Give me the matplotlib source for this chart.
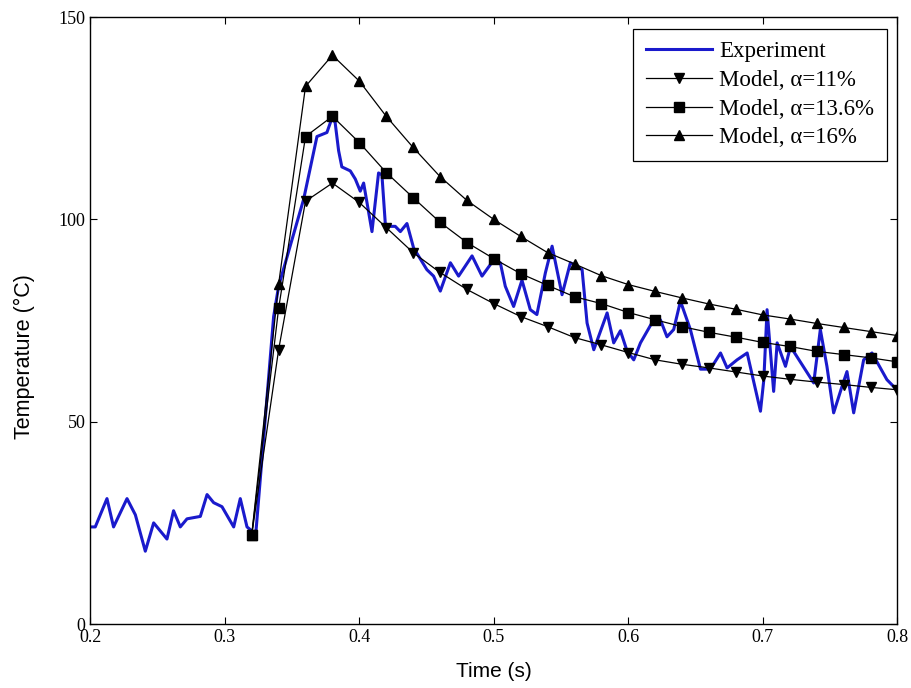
import matplotlib.pyplot as plt

# measured experiment trace
exp_t = [0.200, 0.2037, 0.2124, 0.2173, 0.2273, 0.2335, 0.2409, 0.2471, 0.257, 0.2619,
         0.2669, 0.2719, 0.2818, 0.2868, 0.2917, 0.2979, 0.3066, 0.3115, 0.3165, 0.3202,
         0.3227, 0.3363, 0.340, 0.3586, 0.3685, 0.3759, 0.3796, 0.382, 0.3846, 0.387,
         0.3933, 0.397, 0.4007, 0.4032, 0.4094, 0.4143, 0.4168, 0.4193, 0.423, 0.4267,
         0.4305, 0.4354, 0.4403, 0.4502, 0.4552, 0.4602, 0.4677, 0.4738, 0.4838, 0.4912,
         0.4999, 0.5048, 0.5085, 0.5147, 0.5209, 0.5271, 0.532, 0.5383, 0.5433, 0.5507,
         0.5569, 0.5656, 0.5693, 0.5743, 0.5842, 0.5891, 0.5941, 0.599, 0.604, 0.609,
         0.6188, 0.6238, 0.6287, 0.6337, 0.6387, 0.6461, 0.6536, 0.661, 0.6685, 0.6734,
         0.6808, 0.6883, 0.6982, 0.7007, 0.7031, 0.708, 0.7106, 0.7168, 0.7205, 0.7378,
         0.7427, 0.7476, 0.7526, 0.7588, 0.7625, 0.7675, 0.7749, 0.7811, 0.7922, 0.7984]
exp_T = [24, 24, 31, 24, 31, 27, 18, 25, 21, 28,
         24, 26, 26.6, 32, 30, 29, 24, 31, 24, 23,
         21, 76, 83.5, 105, 120.5, 121.5, 125, 124, 117, 113,
         112, 110, 107, 109, 97, 111.5, 111, 99, 98.3, 98.3,
         97, 99, 93, 87.6, 86, 82.3, 89.3, 86, 91, 86,
         90, 89.3, 83.5, 78.5, 85, 77.7, 76.5, 86.8, 93.4, 81.4,
         89.3, 87.6, 74.4, 67.8, 76.9, 69.5, 72.5, 67.5, 65.3, 69.5,
         75.2, 75.2, 71, 72.8, 79.8, 72.8, 63, 63, 67, 63.3,
         65.3, 67, 52.6, 60.4, 77.7, 57.5, 69.5, 63.7, 68.6, 59.6,
         72.8, 63.7, 52.2, 58.7, 62.4, 52.2, 65.3, 67, 60.4, 58.3]

# model curves, one point every 0.02 s
model_t = [0.32, 0.34, 0.36, 0.38, 0.40, 0.42, 0.44, 0.46, 0.48, 0.50, 0.52, 0.54, 0.56,
           0.58, 0.60, 0.62, 0.64, 0.66, 0.68, 0.70, 0.72, 0.74, 0.76, 0.78, 0.80]
model_11 = [22, 67.8, 104.5, 109, 104.2, 98, 91.8, 86.9, 82.7, 79.2, 76, 73.5, 70.8,
            69, 67.1, 65.3, 64.2, 63.3, 62.3, 61.3, 60.5, 59.8, 59.2, 58.5, 57.9]
model_136 = [22, 78, 120.5, 125.5, 119, 111.6, 105.4, 99.3, 94.3, 90.3, 86.6, 83.7, 80.9,
             79.2, 77, 75.2, 73.5, 72.1, 70.9, 69.6, 68.6, 67.4, 66.6, 65.8, 64.8]
model_16 = [22, 84, 132.9, 140.6, 134.2, 125.5, 117.8, 110.6, 104.7, 100, 95.8, 91.8, 89,
            86.1, 83.9, 82.2, 80.6, 79.1, 77.8, 76.4, 75.4, 74.3, 73.3, 72.3, 71.3]

serif = ['Liberation Serif', 'DejaVu Serif']
sans = ['Liberation Sans', 'DejaVu Sans']

fig = plt.figure(figsize=(9.12, 6.88), dpi=100)
ax = fig.add_axes([0.099, 0.093, 0.885, 0.882])

ax.plot(exp_t, exp_T, color='#1a1acc', lw=2.2, label='Experiment')
ax.plot(model_t, model_11, 'k-', marker='v', ms=6.5, lw=0.9, label='Model, \u03b1=11%')
ax.plot(model_t, model_136, 'k-', marker='s', ms=6.5, lw=0.9, label='Model, \u03b1=13.6%')
ax.plot(model_t, model_16, 'k-', marker='^', ms=6.5, lw=0.9, label='Model, \u03b1=16%')

ax.set_xlim(0.2, 0.8)
ax.set_ylim(0, 150)
ax.set_xticks([0.2, 0.3, 0.4, 0.5, 0.6, 0.7, 0.8])
ax.set_yticks([0, 50, 100, 150])
ax.tick_params(direction='in', top=True, right=True, length=5, width=0.8)
for lab in ax.get_xticklabels() + ax.get_yticklabels():
    lab.set_family(serif)
    lab.set_fontsize(13)
for sp in ax.spines.values():
    sp.set_linewidth(1.0)

ax.set_xlabel('Time (s)', family=sans, fontsize=15)
ax.set_ylabel('Temperature (\u00b0C)', family=sans, fontsize=15.5)
ax.xaxis.set_label_coords(0.5, -0.062)
ax.yaxis.set_label_coords(-0.068, 0.44)

leg = ax.legend(loc='upper right', bbox_to_anchor=(0.987, 0.981), borderaxespad=0,
                prop={'family': serif, 'size': 16.5},
                fancybox=False, edgecolor='black', framealpha=1,
                handlelength=2.9, labelspacing=0.33,
                handletextpad=0.3, borderpad=0.55)
leg.get_frame().set_linewidth(0.9)

fig.savefig('out.png', dpi=100)
